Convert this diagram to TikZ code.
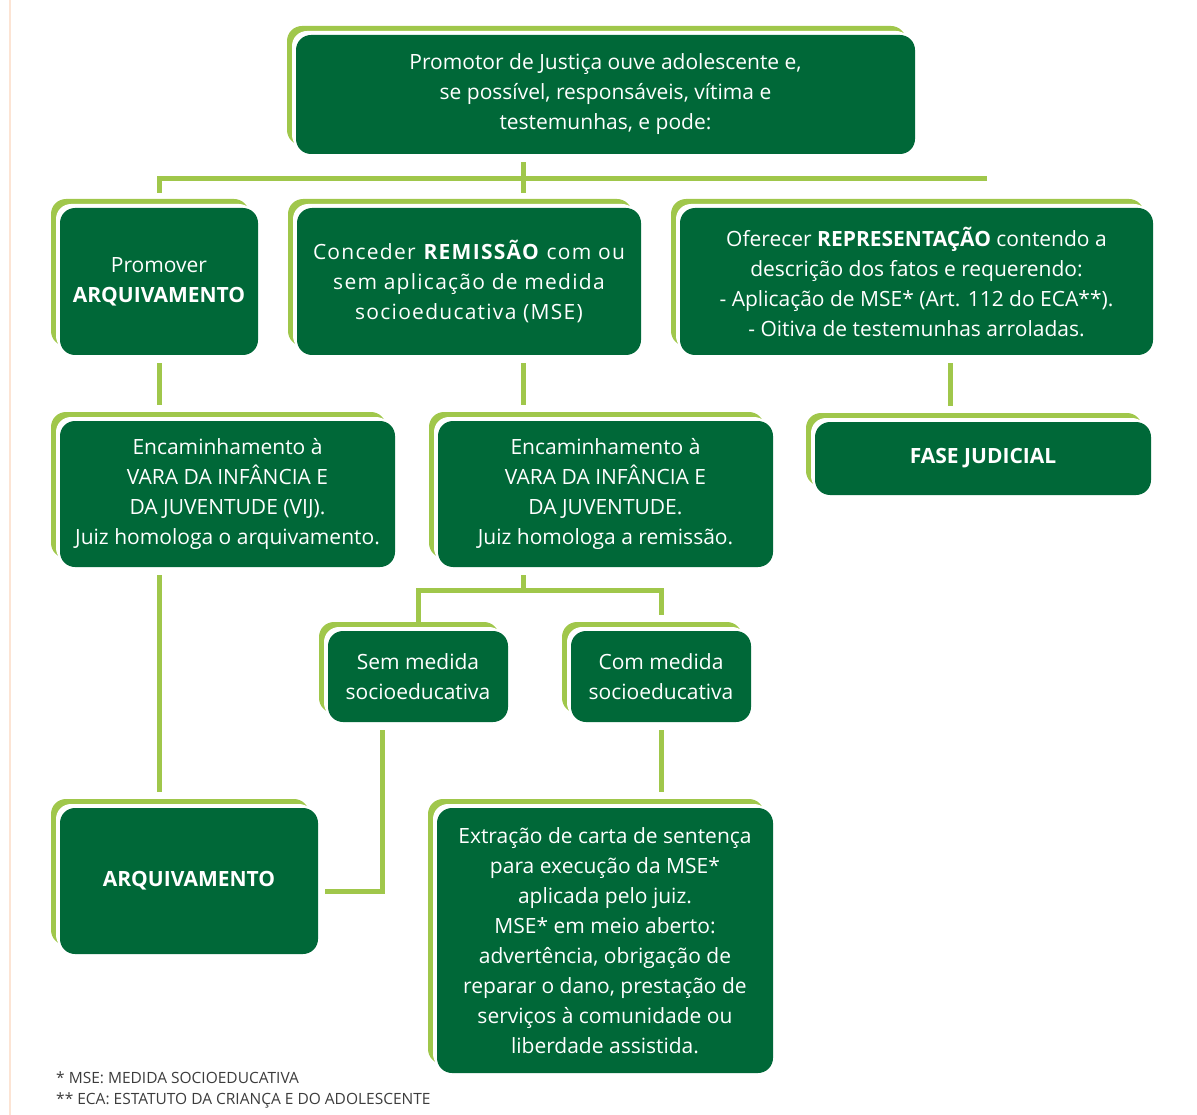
\documentclass[tikz,border=0pt]{standalone}
\usepackage{fontspec}
\setmainfont{Open Sans}
\newfontfamily\widefont[LetterSpace=6]{Open Sans}
\usetikzlibrary{shadows}

\definecolor{darkgreen}{RGB}{0,104,56}
\definecolor{lightgreen}{RGB}{160,199,75}
\definecolor{peach}{RGB}{252,228,212}
\definecolor{footgray}{RGB}{60,60,60}

\tikzset{
    stagebox/.style={fill=darkgreen, text=white, rounded corners=15pt, align=center, inner sep=0pt,
        font=\fontsize{21}{30}\selectfont,
        general shadow={fill=lightgreen, shadow xshift=-9pt, shadow yshift=9pt},
        general shadow={fill=white, shadow xshift=-4pt, shadow yshift=4pt}},
    conn/.style={draw=lightgreen, line width=5pt, shorten <=8pt, shorten >=16pt},
    foot/.style={text=footgray, inner sep=0pt, anchor=west, font=\fontsize{15.5}{18}\selectfont}
}

\begin{document}
\begin{tikzpicture}[x=1pt,y=-1pt]

    \useasboundingbox (0,0) rectangle (1197,1115);
    \draw[peach, line width=1.5pt] (10,0) -- (10,1115);

    %first row:
    \node[stagebox, minimum width=619pt, minimum height=119pt] (top) at (605.5,94.5)
        {Promotor de Justiça ouve adolescente e,\\ se possível, responsáveis, vítima e\\ testemunhas, e pode:};

    %three ways:
    \node[stagebox, minimum width=198pt, minimum height=147pt] (promover) at (159,281.5)
        {Promover\\ \textbf{ARQUIVAMENTO}};
    \node[stagebox, minimum width=344pt, minimum height=147pt, font=\fontsize{21}{30}\widefont] (conceder) at (469,281.5)
        {Conceder \textbf{REMISSÃO} com ou\\ sem aplicação de medida\\ socioeducativa (MSE)};
    \node[stagebox, minimum width=473pt, minimum height=147pt] (repr) at (916.5,281.5)
        {Oferecer \textbf{REPRESENTAÇÃO} contendo a\\ descrição dos fatos e requerendo:\\
         - Aplicação de MSE* (Art. 112 do ECA**).\\ - Oitiva de testemunhas arroladas.};

    %second row:
    \node[stagebox, minimum width=335pt, minimum height=146pt] (encam1) at (227.5,494)
        {Encaminhamento à\\ VARA DA INFÂNCIA E\\ DA JUVENTUDE (VIJ).\\ Juiz homologa o arquivamento.};
    \node[stagebox, minimum width=335pt, minimum height=146pt] (encam2) at (605.5,494)
        {Encaminhamento à\\ VARA DA INFÂNCIA E\\ DA JUVENTUDE.\\ Juiz homologa a remissão.};
    \node[stagebox, minimum width=336pt, minimum height=73pt] (fase) at (983,458.5)
        {\textbf{FASE JUDICIAL}};

    %with or without MSE:
    \node[stagebox, minimum width=180pt, minimum height=91pt] (sem) at (418,676.5)
        {Sem medida\\ socioeducativa};
    \node[stagebox, minimum width=180pt, minimum height=91pt] (com) at (661,676.5)
        {Com medida\\ socioeducativa};

    %last row:
    \node[stagebox, minimum width=258pt, minimum height=146pt] (arqfinal) at (189,881)
        {\textbf{ARQUIVAMENTO}};
    \node[stagebox, minimum width=336pt, minimum height=265pt] (extr) at (605,940.5)
        {Extração de carta de sentença\\ para execução da MSE*\\ aplicada pelo juiz.\\
         MSE* em meio aberto:\\ advertência, obrigação de\\ reparar o dano, prestação de\\
         serviços à comunidade ou\\ liberdade assistida.};

    %connectors:
    \coordinate (colB) at (523,0);
    \coordinate (colC) at (950,0);
    \coordinate (busR) at (987,179);
    \coordinate (fork) at (523,590);

    \draw[conn, shorten >=15pt] (top.south -| colB) -- (conceder.north -| colB);
    \draw[conn, shorten <=0pt, shorten >=15pt] (busR) -| (promover.north);
    \draw[conn] (promover.south) -- (encam1.north -| promover.south);
    \draw[conn] (conceder.south -| colB) -- (encam2.north -| colB);
    \draw[conn] (repr.south -| colC) -- (fase.north -| colC);
    \draw[conn] (encam1.south -| promover.south) -- (arqfinal.north -| promover.south);
    \draw[conn, shorten >=0pt] (encam2.south -| colB) -- (fork);
    \draw[conn] (sem.north) |- (fork) -| (com.north);
    \draw[conn] (com.south) -- (extr.north -| com.south);
    \draw[conn, shorten >=7pt] ([xshift=-36pt]sem.south) |- ([yshift=-10pt]arqfinal.east);

    %footnotes:
    \node[foot] (fn1) at (56,1078) {* MSE: MEDIDA SOCIOEDUCATIVA};
    \node[foot] (fn2) at (56,1100) {** ECA: ESTATUTO DA CRIANÇA E DO ADOLESCENTE};

\end{tikzpicture}
\end{document}
